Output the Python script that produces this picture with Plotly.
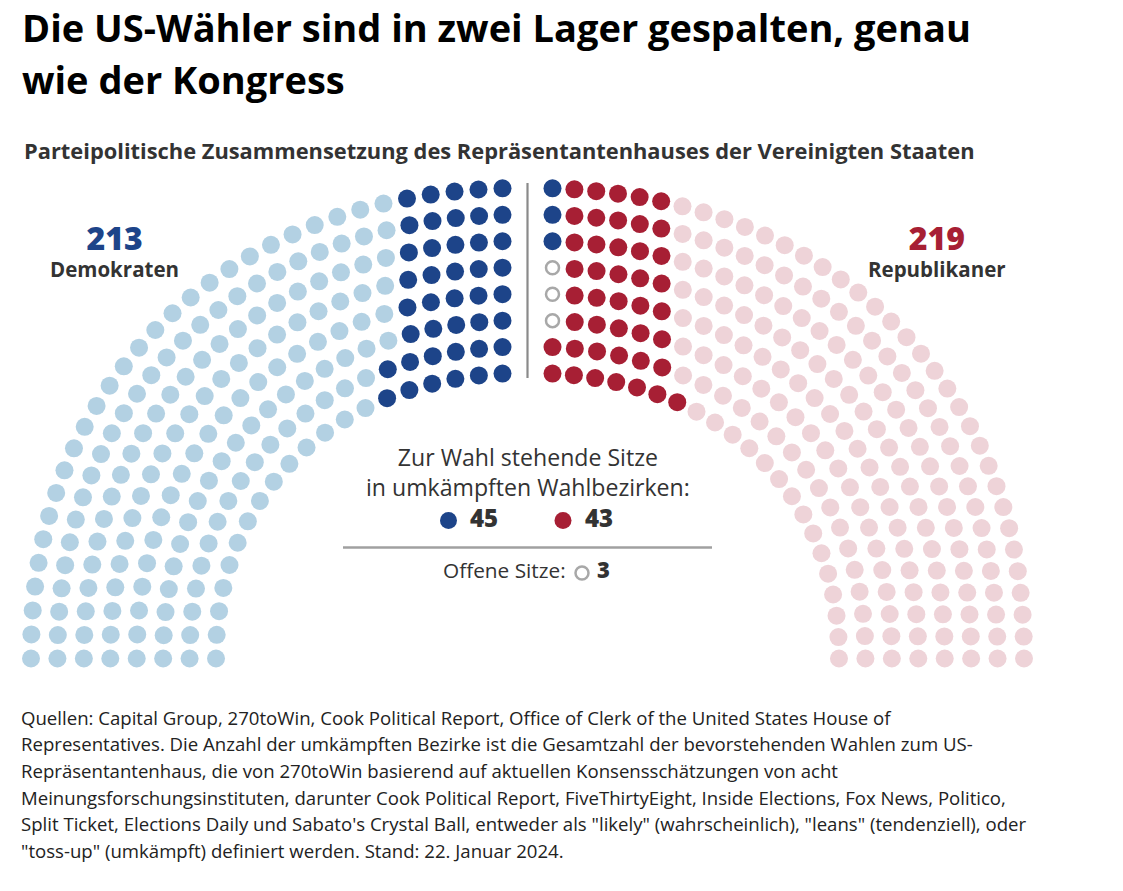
import numpy as np
import plotly.graph_objects as go

# ---------------- data ----------------
DEM_TOTAL = 213          # Demokraten
REP_TOTAL = 219          # Republikaner
DEM_SWING = 45           # umkämpfte Sitze, Demokraten
REP_SWING = 43           # umkämpfte Sitze, Republikaner
VACANT = 3               # offene Sitze
N_ROWS = 8

# placement of the highlighted seats, outer row first
LEFT_DEM_SWING_BY_ROW = [5, 5, 5, 5, 5, 5, 6, 6]
RIGHT_CENTER_SEAT = ["D", "D", "D", "V", "V", "V", "R", "R"]
RIGHT_REP_SWING_BY_ROW = [5, 5, 5, 5, 5, 5, 6, 7]   # incl. centre seat

TITLE_LINES = ["Die US-Wähler sind in zwei Lager gespalten, genau", "wie der Kongress"]
SUBTITLE = "Parteipolitische Zusammensetzung des Repräsentantenhauses der Vereinigten Staaten"
LEGEND_HEAD = ["Zur Wahl stehende Sitze", "in umkämpften Wahlbezirken:"]
FOOTER_LINES = [
    "Quellen: Capital Group, 270toWin, Cook Political Report, Office of Clerk of the United States House of",
    "Representatives. Die Anzahl der umkämpften Bezirke ist die Gesamtzahl der bevorstehenden Wahlen zum US-",
    "Repräsentantenhaus, die von 270toWin basierend auf aktuellen Konsensschätzungen von acht",
    "Meinungsforschungsinstituten, darunter Cook Political Report, FiveThirtyEight, Inside Elections, Fox News, Politico,",
    "Split Ticket, Elections Daily und Sabato's Crystal Ball, entweder als \"likely\" (wahrscheinlich), \"leans\" (tendenziell), oder",
    "\"toss-up\" (umkämpft) definiert werden. Stand: 22. Januar 2024.",
]

# ---------------- style / geometry ----------------
C_DEM_SAFE = "#b3d1e3"
C_DEM_SWING = "#1d4489"
C_REP_SWING = "#a71f34"
C_REP_SAFE = "#eed3d8"
C_VACANT = "#a8a8a8"
C_TEXT = "#333333"

CX, BASE_Y = 527.5, 658.5
A_OUT, B_OUT, ROW_STEP = 496.5, 470.5, 26.43
END_DX = 25.0
EXP = 2.15
DOT = 18

# page body has an 8px margin: compensate so coordinates are window pixels
PAGE_MARGIN = 8
FIG_W, FIG_H = 1123 - 2 * PAGE_MARGIN, 891 - 2 * PAGE_MARGIN

n_right_dem = RIGHT_CENTER_SEAT.count("D")
left_total = DEM_TOTAL - n_right_dem
right_total = REP_TOTAL + VACANT + n_right_dem


def row_curve(k):
    a = A_OUT - k * ROW_STEP
    b = B_OUT - k * ROW_STEP
    t = np.linspace(0, np.pi / 2, 4000)
    dx = a * np.cos(t) ** (2 / EXP)
    dy = b * np.sin(t) ** (2 / EXP)
    seg = np.hypot(np.diff(dx), np.diff(dy))
    s = np.concatenate([[0], np.cumsum(seg)])
    s_end = np.interp(-END_DX, -dx, s)
    return dx, dy, s, s_end


curves = [row_curve(k) for k in range(N_ROWS)]
lengths = np.array([c[3] for c in curves])


def row_counts(total):
    gaps = total - N_ROWS
    raw = gaps * lengths / lengths.sum()
    base = np.floor(raw).astype(int)
    rem = gaps - base.sum()
    order = np.argsort(-(raw - base))
    base[order[:rem]] += 1
    return base + 1


left_counts = row_counts(left_total)
right_counts = row_counts(right_total)


def seats_on_row(k, n):
    dx, dy, s, s_end = curves[k]
    targets = np.linspace(0, s_end, n)
    return np.interp(targets, s, dx), np.interp(targets, s, dy)


groups = {"dsafe": ([], []), "dswing": ([], []), "vac": ([], []), "rswing": ([], []), "rsafe": ([], [])}

for k in range(N_ROWS):
    # left half: floor -> centre
    dx, dy = seats_on_row(k, left_counts[k])
    n = left_counts[k]
    for i in range(n):
        key = "dswing" if i >= n - LEFT_DEM_SWING_BY_ROW[k] else "dsafe"
        groups[key][0].append(CX - dx[i])
        groups[key][1].append(BASE_Y - dy[i])
    # right half: centre -> floor
    dx, dy = seats_on_row(k, right_counts[k])
    dx, dy = dx[::-1], dy[::-1]
    n = right_counts[k]
    centre = RIGHT_CENTER_SEAT[k]
    n_red = RIGHT_REP_SWING_BY_ROW[k]
    for i in range(n):
        if i == 0 and centre == "D":
            key = "dswing"
        elif i == 0 and centre == "V":
            key = "vac"
        elif (centre == "R" and i < n_red) or (centre != "R" and i <= n_red):
            key = "rswing"
        else:
            key = "rsafe"
        groups[key][0].append(CX + dx[i])
        groups[key][1].append(BASE_Y - dy[i])

fig = go.Figure()
colors = {"dsafe": C_DEM_SAFE, "dswing": C_DEM_SWING, "rswing": C_REP_SWING, "rsafe": C_REP_SAFE}
for key in ["dsafe", "dswing", "rswing", "rsafe"]:
    xs, ys = groups[key]
    fig.add_trace(go.Scatter(x=xs, y=ys, mode="markers", hoverinfo="skip",
                             marker=dict(size=DOT, color=colors[key], line=dict(width=0))))
xs, ys = groups["vac"]
fig.add_trace(go.Scatter(x=xs, y=ys, mode="markers", hoverinfo="skip",
                         marker=dict(size=13, color="white", line=dict(width=2.5, color=C_VACANT))))

shapes = [
    dict(type="line", x0=CX, x1=CX, y0=183, y1=378, line=dict(color="#8a8a8a", width=2.2)),
    dict(type="line", x0=343, x1=712, y0=547.5, y1=547.5, line=dict(color="#a0a0a0", width=2.5)),
    dict(type="circle", x0=440, x1=457, y0=512, y1=529, fillcolor=C_DEM_SWING, line=dict(width=0)),
    dict(type="circle", x0=554.5, x1=571.5, y0=512, y1=529, fillcolor=C_REP_SWING, line=dict(width=0)),
    dict(type="circle", x0=575.5, x1=588.5, y0=566.5, y1=579.5, fillcolor="white",
         line=dict(width=2.5, color=C_VACANT)),
]

ann = []
ASC, DESC = 1.069, 0.293   # Open Sans vertical metrics (em)


def txt(x, baseline, s, size, color=C_TEXT, weight=400, xanchor="left"):
    ann.append(dict(x=x, y=baseline - (ASC - DESC) / 2 * size, xref="x", yref="y", text=s,
                    showarrow=False, xanchor=xanchor, yanchor="middle",
                    font=dict(size=size, color=color, family="Open Sans", weight=weight)))


def two_line(x, base1, big, big_size, big_color, big_weight, small, size, weight, color=C_TEXT):
    """Two stacked lines in one text block; plotly spaces lines by 1.3 em of the base size."""
    base2 = base1 + 1.3 * size
    top = base1 - ASC * big_size
    bottom = base2 + DESC * size
    s = (f"<span style='font-size:{big_size}px;color:{big_color};font-weight:{big_weight}'>{big}</span>"
         f"<br>{small}")
    ann.append(dict(x=x, y=(top + bottom) / 2, xref="x", yref="y", text=s, showarrow=False,
                    xanchor="center", yanchor="middle", align="center",
                    font=dict(size=size, color=color, family="Open Sans", weight=weight)))


txt(19.5, 41.7, TITLE_LINES[0], 38, "#000000", 700)
txt(19.5, 93.3, TITLE_LINES[1], 38, "#000000", 700)
txt(21.5, 159, SUBTITLE, 21.85, C_TEXT, 700)

two_line(114, 250, str(DEM_TOTAL), 32, C_DEM_SWING, 800, "Demokraten", 20.5, 700)
two_line(937, 250, str(REP_TOTAL), 32, C_REP_SWING, 800, "Republikaner", 20.5, 700)
two_line(527.5, 466, LEGEND_HEAD[0], 23.1, C_TEXT, 400, LEGEND_HEAD[1], 23.1, 400)

txt(468, 527, str(DEM_SWING), 24, C_TEXT, 800)
txt(583, 527, str(REP_SWING), 24, C_TEXT, 800)
txt(567.5, 578, "Offene Sitze:", 20.8, C_TEXT, 400, "right")
txt(595, 578, str(VACANT), 22, C_TEXT, 800)

for i, line in enumerate(FOOTER_LINES):
    txt(18.5, 724.3 + i * 26.7, line, 18.6, "#222222", 400)

fig.update_layout(
    width=FIG_W, height=FIG_H,
    margin=dict(l=0, r=0, t=0, b=0, autoexpand=False),
    paper_bgcolor="white", plot_bgcolor="white",
    showlegend=False,
    xaxis=dict(range=[PAGE_MARGIN, PAGE_MARGIN + FIG_W], visible=False, fixedrange=True),
    yaxis=dict(range=[PAGE_MARGIN + FIG_H, PAGE_MARGIN], visible=False, fixedrange=True),
    shapes=shapes, annotations=ann,
)
fig.write_html("out.html")
